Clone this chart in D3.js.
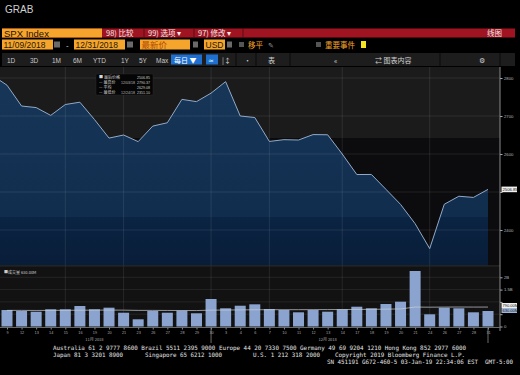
<!DOCTYPE html>
<html>
<head>
<meta charset="utf-8">
<script src="https://cdn.jsdelivr.net/npm/d3@7"></script>
<style>
	body { margin: 0; background: #000; }
	svg { display: block; }
</style>
</head>
<body>
<svg id="chart" width="520" height="375"></svg>
<script>
// first entry (11/08) sits just left of the plot, the line runs in from it
const dates = ["11/08", "11/09", "11/12", "11/13", "11/14", "11/15", "11/16", "11/19", "11/20", "11/21", "11/23",
	"11/26", "11/27", "11/28", "11/29", "11/30", "12/03", "12/04", "12/06", "12/07", "12/10", "12/11", "12/12",
	"12/13", "12/14", "12/17", "12/18", "12/19", "12/20", "12/21", "12/24", "12/26", "12/27", "12/28", "12/31"];
const closes = [2806.83, 2781.01, 2726.22, 2722.18, 2701.58, 2730.20, 2736.27, 2690.73, 2641.89, 2649.93, 2632.56,
	2673.45, 2682.17, 2743.79, 2737.80, 2760.17, 2790.37, 2700.06, 2695.95, 2633.08, 2637.72, 2636.78, 2651.07,
	2650.54, 2599.95, 2545.94, 2546.16, 2506.96, 2467.42, 2416.62, 2351.10, 2467.70, 2488.83, 2485.74, 2506.85];
// volume in millions
const volumes = [null, 670, 630, 600, 700, 700, 833, 700, 765, 560, 293,
	630, 560, 642, 537, 1118, 740, 845, 902, 711, 670, 577, 670,
	602, 700, 805, 740, 915, 1008, 2256, 496, 764, 740, 577, 630];
const volumeAvg = [null, 655, 655, 652, 655, 658, 662, 665, 668, 665, 655,
	655, 652, 650, 648, 665, 670, 675, 680, 682, 684, 684, 686,
	688, 690, 694, 698, 705, 715, 790, 785, 790, 792, 790, 790];

const priceTicks = [2400, 2500, 2600, 2700, 2800];
const volumeTicks = [0, 500, 1000, 1500, 2000];
const volumeTickLabels = ["0", "500M", "1B", "1.5B", "2B"];
const gridDates = ["11/15", "11/21", "11/30", "12/07", "12/14", "12/24"];
const monthEndDates = ["11/30", "12/31"];
const monthLabels = ["11月 2018", "12月 2018"];
const monthLabelDates = ["11/19", "12/13"];
const upperShadeLevel = 2642;
const fillShadeLevel = 2434;

const legendRows = [
	["■ 最后价格", "", "2506.85"],
	["— 最高价", "12/03/18", "2790.37"],
	["— 平均", "", "2629.08"],
	["— 最低价", "12/24/18", "2351.10"]
];

const svg = d3.select("#chart");
const font = "'Liberation Sans', Arial, sans-serif";
const cjk = "'Noto Sans CJK SC', sans-serif";

const plot = { left: 0, right: 500, top: 67, bottom: 265.5 };
const vol = { top: 267, bottom: 327 };

const x = d3.scalePoint().domain(dates).range([7 - 14.576, 488]);
const y = d3.scaleLinear().domain([2300, 2800]).range([268, 78]);
const yv = d3.scaleLinear().domain([0, 2000]).range([326.5, 277.3]);

// ---------- header ----------
svg.append("text").attr("x", 5).attr("y", 13).attr("font-family", font)
	.attr("font-size", 10).attr("fill", "#d0d0d0").text("GRAB");

svg.append("rect").attr("x", 2).attr("y", 28.5).attr("width", 513).attr("height", 9).attr("fill", "#a01422");
svg.append("rect").attr("x", 2).attr("y", 28.5).attr("width", 100).attr("height", 9).attr("fill", "#f6a52c");
svg.append("text").attr("x", 4).attr("y", 36.5).attr("font-family", font).attr("font-size", 9.5)
	.attr("fill", "#1a1205").text("SPX Index");

const redItems = [[106, "98) 比较"], [148, "99) 选项 ▾"], [198, "97) 修改 ▾"], [487, "线图"]];
redItems.forEach(([px, t]) => {
	svg.append("text").attr("x", px).attr("y", 36).attr("font-family", cjk).attr("font-size", 7.5)
		.attr("fill", "#f2e6e6").text(t);
});
[144, 194, 243].forEach(px => {
	svg.append("line").attr("x1", px).attr("x2", px).attr("y1", 28.5).attr("y2", 37.5)
		.attr("stroke", "#5a0a12").attr("stroke-width", 1);
});

// row 2: date range and options
const orangeBoxes = [[2, 51, "11/09/2018", "#2a1800"], [74, 51, "12/31/2018", "#2a1800"], [140, 50, "最新价", "#b04a00"], [204, 21, "USD", "#2a1800"]];
orangeBoxes.forEach(([bx, bw, t, c]) => {
	svg.append("rect").attr("x", bx).attr("y", 39.5).attr("width", bw).attr("height", 10).attr("fill", "#f6a52c");
	svg.append("text").attr("x", bx + 1.5).attr("y", 48).attr("font-family", t.match(/\d|USD/) ? font : cjk)
		.attr("font-size", 8.5).attr("fill", c).text(t);
});
[[54, 6], [127, 6], [193, 5], [227, 5]].forEach(([bx, bw]) => {
	svg.append("rect").attr("x", bx).attr("y", 41.5).attr("width", bw).attr("height", 6).attr("fill", "#6a6a6a");
});
svg.append("text").attr("x", 66).attr("y", 48).attr("font-family", font).attr("font-size", 8).attr("fill", "#ccc").text("-");
[239, 316].forEach(bx => {
	svg.append("rect").attr("x", bx).attr("y", 42).attr("width", 5).attr("height", 5).attr("fill", "#555");
});
svg.append("text").attr("x", 248).attr("y", 48).attr("font-family", cjk).attr("font-size", 7.5).attr("fill", "#f6a52c").text("移平");
svg.append("text").attr("x", 268).attr("y", 48).attr("font-family", font).attr("font-size", 7).attr("fill", "#999").text("✎");
svg.append("text").attr("x", 325).attr("y", 48).attr("font-family", cjk).attr("font-size", 7.5).attr("fill", "#f6a52c").text("重要事件");
svg.append("rect").attr("x", 361).attr("y", 41).attr("width", 5).attr("height", 7).attr("fill", "#f2e41e");

// row 3: toolbar
svg.append("rect").attr("x", 2).attr("y", 53).attr("width", 513).attr("height", 13).attr("fill", "#1d1d1d");
const tools = [[7, "1D"], [30, "3D"], [52, "1M"], [73, "6M"], [93, "YTD"], [121, "1Y"], [139, "5Y"], [156, "Max"]];
tools.forEach(([px, t]) => {
	svg.append("text").attr("x", px).attr("y", 62.5).attr("font-family", font).attr("font-size", 6.5)
		.attr("fill", "#c8c8c8").text(t);
});
svg.append("rect").attr("x", 171).attr("y", 54.5).attr("width", 31).attr("height", 10).attr("fill", "#1f6fd0");
svg.append("text").attr("x", 174).attr("y", 62.5).attr("font-family", cjk).attr("font-size", 7).attr("fill", "#fff").text("每日 ▼");
svg.append("rect").attr("x", 206).attr("y", 54.5).attr("width", 12).attr("height", 10).attr("fill", "#1f6fd0");
svg.append("text").attr("x", 208).attr("y", 62.5).attr("font-family", font).attr("font-size", 7).attr("fill", "#dfe").text("≃");
const tools2 = [[222, "|↕"], [244, "·"], [268, "表"], [334, "«"], [375, "⇄ 图表内容"], [479, "⚙"]];
tools2.forEach(([px, t]) => {
	svg.append("text").attr("x", px).attr("y", 62.5).attr("font-family", cjk).attr("font-size", 7)
		.attr("fill", "#cfcfcf").text(t);
});
[236, 256, 290, 440, 500].forEach(px => {
	svg.append("line").attr("x1", px).attr("x2", px).attr("y1", 53).attr("y2", 66)
		.attr("stroke", "#0a0a0a").attr("stroke-width", 1);
});

// ---------- price panel ----------
const defs = svg.append("defs");
defs.append("clipPath").attr("id", "plotClip").append("rect")
	.attr("x", plot.left).attr("y", plot.top)
	.attr("width", plot.right - plot.left).attr("height", plot.bottom - plot.top);

const grad = defs.append("linearGradient").attr("id", "areaFill")
	.attr("gradientUnits", "userSpaceOnUse")
	.attr("x1", 0).attr("x2", 0).attr("y1", plot.top).attr("y2", plot.bottom);
const splitOffset = (y(fillShadeLevel) - plot.top) / (plot.bottom - plot.top);
grad.append("stop").attr("offset", 0).attr("stop-color", "#173759");
grad.append("stop").attr("offset", splitOffset).attr("stop-color", "#112d4e");
grad.append("stop").attr("offset", splitOffset).attr("stop-color", "#0b2443");
grad.append("stop").attr("offset", 1).attr("stop-color", "#081d38");

svg.append("rect").attr("x", plot.left).attr("y", plot.top)
	.attr("width", plot.right - plot.left).attr("height", y(upperShadeLevel) - plot.top)
	.attr("fill", "#1b1b1b");
svg.append("rect").attr("x", plot.left).attr("y", y(upperShadeLevel))
	.attr("width", plot.right - plot.left).attr("height", plot.bottom - y(upperShadeLevel))
	.attr("fill", "#0c0c0e");

const pg = svg.append("g").attr("clip-path", "url(#plotClip)");

pg.append("path")
	.datum(closes)
	.attr("fill", "url(#areaFill)")
	.attr("d", d3.area().x((d, i) => x(dates[i])).y0(plot.bottom).y1(d => y(d)));

// grid
pg.selectAll("line.hgrid").data(priceTicks).join("line").attr("class", "hgrid")
	.attr("x1", plot.left).attr("x2", plot.right)
	.attr("y1", d => y(d)).attr("y2", d => y(d))
	.attr("stroke", "rgba(255,255,255,0.09)").attr("stroke-width", 1);

svg.selectAll("line.vgrid").data(gridDates).join("line").attr("class", "vgrid")
	.attr("x1", d => x(d)).attr("x2", d => x(d))
	.attr("y1", plot.top).attr("y2", vol.bottom)
	.attr("stroke", "rgba(255,255,255,0.09)").attr("stroke-width", 1);

pg.append("path")
	.datum(closes)
	.attr("fill", "none")
	.attr("stroke", "#93aac8")
	.attr("stroke-width", 1)
	.attr("stroke-linejoin", "round")
	.attr("d", d3.line().x((d, i) => x(dates[i])).y(d => y(d)));

// legend box
const lg = svg.append("g").attr("transform", "translate(96,74)");
lg.append("rect").attr("width", 57).attr("height", 21).attr("fill", "#050505").attr("stroke", "#2a2a2a").attr("stroke-width", 0.5);
legendRows.forEach((r, i) => {
	lg.append("text").attr("x", 3).attr("y", 4.8 + i * 5).attr("font-family", cjk).attr("font-size", 4)
		.attr("fill", "#d8d8d8").text(r[0]);
	lg.append("text").attr("x", 25).attr("y", 4.8 + i * 5).attr("font-family", font).attr("font-size", 3.6)
		.attr("fill", "#bbb").text(r[1]);
	lg.append("text").attr("x", 54).attr("y", 4.8 + i * 5).attr("text-anchor", "end").attr("font-family", font)
		.attr("font-size", 3.6).attr("fill", "#ccc").text(r[2]);
});

// panel separator
svg.append("line").attr("x1", 0).attr("x2", plot.right).attr("y1", 266).attr("y2", 266)
	.attr("stroke", "#3a3a3a").attr("stroke-width", 1);

const last = closes[closes.length - 1];

// right price axis; the label under the last-price box stays covered
svg.append("g")
	.attr("transform", `translate(${plot.right},0)`)
	.call(d3.axisRight(y).tickValues(priceTicks).tickSize(2.5)
		.tickFormat(d => Math.abs(y(d) - y(last)) < 6 ? "" : d3.format("d")(d)))
	.call(g => g.select(".domain").remove())
	.call(g => g.selectAll(".tick line").attr("stroke", "#aaa"))
	.call(g => g.selectAll(".tick text").attr("x", 4).attr("fill", "#b8b8b8")
		.attr("font-family", font).attr("font-size", 4.2));

svg.append("rect").attr("x", 501.5).attr("y", y(last) - 2.8).attr("width", 15.5).attr("height", 5.6).attr("fill", "#f0f0f0");
svg.append("text").attr("x", 502.5).attr("y", y(last) + 1.6).attr("font-family", font).attr("font-size", 4.2)
	.attr("fill", "#111").text(d3.format(".2f")(last));

// ---------- volume panel ----------
svg.append("rect").attr("x", 0).attr("y", vol.top).attr("width", plot.right).attr("height", vol.bottom - vol.top)
	.attr("fill", "#121212");

svg.selectAll("line.vgrid2").data(gridDates).join("line").attr("class", "vgrid2")
	.attr("x1", d => x(d)).attr("x2", d => x(d))
	.attr("y1", vol.top).attr("y2", vol.bottom)
	.attr("stroke", "rgba(255,255,255,0.09)");

svg.selectAll("line.vhgrid").data(volumeTicks.slice(1)).join("line").attr("class", "vhgrid")
	.attr("x1", 0).attr("x2", plot.right)
	.attr("y1", d => yv(d)).attr("y2", d => yv(d))
	.attr("stroke", "rgba(255,255,255,0.08)");

const barData = dates.map((d, i) => ({ date: d, v: volumes[i] })).filter(d => d.v != null);
svg.append("g").selectAll("rect").data(barData).join("rect")
	.attr("x", d => x(d.date) - 5.5)
	.attr("width", 11)
	.attr("y", d => yv(d.v))
	.attr("height", d => yv(0) - yv(d.v))
	.attr("fill", "#8aa4cf");

const avgData = dates.map((d, i) => ({ date: d, v: volumeAvg[i] })).filter(d => d.v != null);
svg.append("path")
	.datum(avgData)
	.attr("fill", "none")
	.attr("stroke", "#c9cfd6")
	.attr("stroke-width", 0.7)
	.attr("d", d3.line().x(d => x(d.date)).y(d => yv(d.v)));

svg.append("text").attr("x", 4).attr("y", 274).attr("font-family", cjk).attr("font-size", 4)
	.attr("fill", "#ccc").text("■成交量 " + volumes[volumes.length - 1].toFixed(2) + "M");

const boxTop = 303, boxBottom = 313;
svg.append("g")
	.attr("transform", `translate(${plot.right},0)`)
	.call(d3.axisRight(yv).tickValues(volumeTicks).tickSize(2.5)
		.tickFormat((d, i) => (yv(d) > boxTop - 3 && yv(d) < boxBottom + 3) ? "" : volumeTickLabels[i]))
	.call(g => g.select(".domain").remove())
	.call(g => g.selectAll(".tick line").attr("stroke", "#aaa"))
	.call(g => g.selectAll(".tick text").attr("x", 4).attr("fill", "#b8b8b8")
		.attr("font-family", font).attr("font-size", 4.2));

const lastVol = volumes[volumes.length - 1], lastAvg = volumeAvg[volumeAvg.length - 1];
svg.append("rect").attr("x", 501.5).attr("y", boxTop).attr("width", 15.5).attr("height", 5).attr("fill", "#f0f0f0");
svg.append("text").attr("x", 502.5).attr("y", boxTop + 4).attr("font-family", font).attr("font-size", 4)
	.attr("fill", "#111").text(lastAvg.toFixed(2) + "M");
svg.append("rect").attr("x", 501.5).attr("y", boxTop + 5).attr("width", 15.5).attr("height", 5).attr("fill", "#9fb6da");
svg.append("text").attr("x", 502.5).attr("y", boxTop + 9).attr("font-family", font).attr("font-size", 4)
	.attr("fill", "#111").text(lastVol.toFixed(2) + "M");

// axes lines
svg.append("line").attr("x1", plot.right).attr("x2", plot.right).attr("y1", plot.top).attr("y2", 331)
	.attr("stroke", "#8a8a8a").attr("stroke-width", 1);
svg.append("line").attr("x1", 0).attr("x2", plot.right).attr("y1", 327.5).attr("y2", 327.5)
	.attr("stroke", "#6a6a6a").attr("stroke-width", 1);

// date axis
svg.append("g")
	.attr("transform", "translate(0,327.5)")
	.call(d3.axisBottom(x).tickValues(barData.map(d => d.date)).tickSize(2)
		.tickFormat(d => String(+d.split("/")[1])))
	.call(g => g.select(".domain").remove())
	.call(g => g.selectAll(".tick line").attr("stroke", "#888"))
	.call(g => g.selectAll(".tick text").attr("y", 4).attr("fill", "#aaa")
		.attr("font-family", font).attr("font-size", 3.8));

svg.selectAll("line.mend").data(monthEndDates).join("line").attr("class", "mend")
	.attr("x1", d => x(d)).attr("x2", d => x(d)).attr("y1", 327.5).attr("y2", 343)
	.attr("stroke", "#888").attr("stroke-width", 0.8);

svg.selectAll("text.month").data(monthLabels).join("text").attr("class", "month")
	.attr("x", (d, i) => x(monthLabelDates[i]))
	.attr("y", 341)
	.attr("text-anchor", "middle")
	.attr("font-family", cjk).attr("font-size", 4)
	.attr("fill", "#aaa")
	.text(d => d);

// ---------- footer ----------
const mono = "'DejaVu Sans Mono', monospace";
const footer = [
	[53, 349.5, 413, "Australia 61 2 9777 8600 Brazil 5511 2395 9000 Europe 44 20 7330 7500 Germany 49 69 9204 1210 Hong Kong 852 2977 6000"],
	[53, 356.5, 70, "Japan 81 3 3201 8900"],
	[145, 356.5, 77, "Singapore 65 6212 1000"],
	[253, 356.5, 67, "U.S. 1 212 318 2000"],
	[335, 356.5, 130, "Copyright 2019 Bloomberg Finance L.P."],
	[327, 364, 186, "SN 451191 G672-460-5 03-Jan-19 22:34:06 EST  GMT-5:00"]
];
footer.forEach(([fx, fy, w, t]) => {
	svg.append("text").attr("x", fx).attr("y", fy).attr("font-family", mono).attr("font-size", 6)
		.attr("textLength", w).attr("lengthAdjust", "spacingAndGlyphs")
		.attr("xml:space", "preserve")
		.attr("fill", "#e6e6e6").text(t);
});
</script>
</body>
</html>
